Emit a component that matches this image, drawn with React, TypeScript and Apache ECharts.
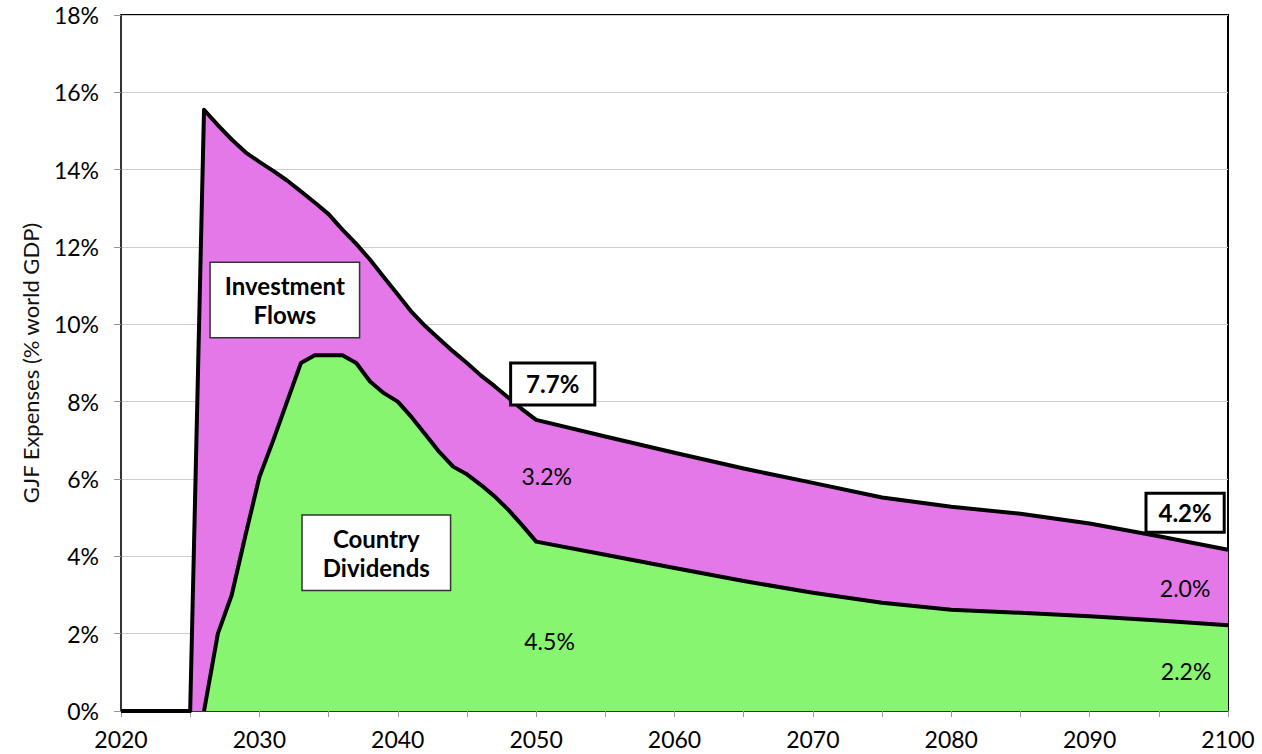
import React, { useEffect, useRef } from "react";
import * as echarts from "echarts";

// Total GJF expenses (top line), % of world GDP
const totalYears = [
  2020, 2025, 2026, 2027, 2028, 2029, 2030, 2031, 2032, 2033, 2034, 2035, 2036, 2037, 2038, 2039, 2040,
  2041, 2042, 2043, 2044, 2045, 2046, 2047, 2048, 2049, 2050, 2055, 2060, 2065, 2070, 2075, 2080, 2085,
  2090, 2095, 2100,
];
const totalValues = [
  0, 0, 15.55, 15.15, 14.78, 14.45, 14.2, 13.97, 13.72, 13.44, 13.15, 12.85, 12.45, 12.08, 11.67, 11.22,
  10.77, 10.32, 9.95, 9.62, 9.3, 9.0, 8.68, 8.4, 8.1, 7.8, 7.53, 7.1, 6.68, 6.27, 5.9, 5.52, 5.28, 5.1,
  4.85, 4.52, 4.17,
];

// Country dividends (lower line)
const dividendYears = [
  2026, 2027, 2028, 2029, 2030, 2031, 2032, 2033, 2034, 2035, 2036, 2037, 2038, 2039, 2040, 2041, 2042,
  2043, 2044, 2045, 2046, 2047, 2048, 2049, 2050, 2055, 2060, 2065, 2070, 2075, 2080, 2085, 2090, 2095,
  2100,
];
const dividendValues = [
  0, 2.0, 3.0, 4.55, 6.05, 7.0, 8.0, 9.0, 9.2, 9.2, 9.2, 9.0, 8.52, 8.22, 8.0, 7.6, 7.15, 6.7, 6.32,
  6.12, 5.85, 5.55, 5.2, 4.8, 4.38, 4.04, 3.7, 3.36, 3.06, 2.8, 2.62, 2.54, 2.45, 2.34, 2.22,
];

// Annotations (text and anchor in data space)
const boxTexts = ["Investment\nFlows", "Country\nDividends"];
const boxAnchors = [
  [2031.84, 10.63],
  [2038.45, 4.09],
];
const totalTexts = ["7.7%", "4.2%"];
const totalAnchors = [
  [2051.2, 8.46],
  [2096.9, 5.13],
];
const shareTexts = ["3.2%", "4.5%", "2.0%", "2.2%"];
const shareAnchors = [
  [2050.76, 6.08],
  [2050.97, 1.81],
  [2096.9, 3.18],
  [2096.97, 1.03],
];

const FONT = "Lato, 'Noto Sans', sans-serif";

export default function App() {
  const ref = useRef<HTMLDivElement>(null);

  useEffect(() => {
    document.body.style.margin = "0";
    const chart = echarts.init(ref.current!, null, { renderer: "svg" });

    const annotationData: any[] = [];
    boxTexts.forEach((t, i) => {
      annotationData.push({
        value: boxAnchors[i],
        label: {
          formatter: t,
          fontWeight: "bold",
          fontSize: 24,
          lineHeight: 29,
          color: "#000",
          backgroundColor: "#fff",
          borderColor: "#333",
          borderWidth: 1.5,
          padding: i === 0 ? [8, 14, 8, 14] : [8, 20, 8, 20],
        },
      });
    });
    totalTexts.forEach((t, i) => {
      annotationData.push({
        value: totalAnchors[i],
        label: {
          formatter: t,
          fontWeight: "bold",
          fontSize: 24,
          lineHeight: 26,
          color: "#000",
          backgroundColor: "#fff",
          borderColor: "#000",
          borderWidth: 3,
          padding: i === 0 ? [7, 14, 6, 14] : [5, 11, 5, 11],
        },
      });
    });
    shareTexts.forEach((t, i) => {
      annotationData.push({
        value: shareAnchors[i],
        label: {
          formatter: t,
          fontSize: 23,
          color: "#000",
        },
      });
    });

    chart.setOption({
      animation: false,
      textStyle: { fontFamily: FONT },
      grid: {
        left: 121,
        right: 34,
        top: 15,
        bottom: 43,
        show: true,
        borderColor: "#000",
        borderWidth: 2,
        containLabel: false,
      },
      xAxis: {
        type: "value",
        min: 2020,
        max: 2100,
        interval: 5,
        axisLine: { show: true, lineStyle: { color: "#333", width: 2 } },
        axisTick: { show: true, length: 6, lineStyle: { color: "#999", width: 1 } },
        splitLine: { show: false },
        axisLabel: {
          margin: 16,
          fontSize: 23,
          color: "#000",
          fontFamily: FONT,
          formatter: (v: number) => (v % 10 === 0 ? String(v) : ""),
          showMaxLabel: true,
          showMinLabel: true,
        },
      },
      yAxis: {
        type: "value",
        min: 0,
        max: 18,
        interval: 2,
        name: "GJF Expenses (% world GDP)",
        nameLocation: "middle",
        nameRotate: 90,
        nameGap: 80,
        nameTextStyle: { fontSize: 22, color: "#111", fontFamily: FONT },
        axisLine: { show: true, lineStyle: { color: "#333", width: 2 } },
        axisTick: { show: true, length: 7, lineStyle: { color: "#999", width: 1 } },
        splitLine: { show: true, lineStyle: { color: "#cfcfcf", width: 1 } },
        axisLabel: {
          margin: 22,
          fontSize: 23,
          color: "#000",
          fontFamily: FONT,
          formatter: (v: number) => `${v}%`,
        },
      },
      series: [
        {
          name: "Investment Flows",
          type: "line",
          data: totalYears.map((y, i) => [y, totalValues[i]]),
          showSymbol: false,
          symbol: "none",
          lineStyle: { color: "#000", width: 4, join: "round" },
          areaStyle: { color: "#E578E8", opacity: 1, origin: "start" },
          z: 2,
        },
        {
          name: "Country Dividends",
          type: "line",
          data: dividendYears.map((y, i) => [y, dividendValues[i]]),
          showSymbol: false,
          symbol: "none",
          lineStyle: { color: "#000", width: 4, join: "round" },
          areaStyle: { color: "#87F56F", opacity: 1, origin: "start" },
          z: 3,
        },
        {
          name: "labels",
          type: "scatter",
          symbolSize: 0,
          silent: true,
          z: 10,
          itemStyle: { opacity: 1 },
          emphasis: { disabled: true },
          label: {
            show: true,
            position: "inside",
            align: "center",
            verticalAlign: "middle",
            fontFamily: FONT,
          },
          data: annotationData,
        },
      ],
    });

    return () => chart.dispose();
  }, []);

  return <div ref={ref} style={{ width: 1262, height: 754 }} />;
}
